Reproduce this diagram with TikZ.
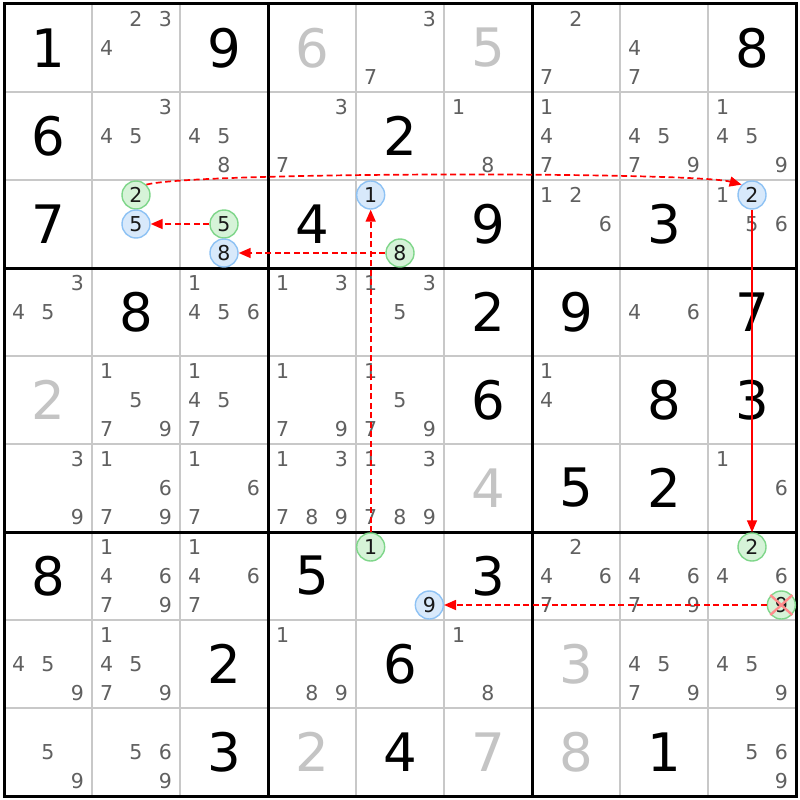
\documentclass[tikz,border=0pt]{standalone}
\usepackage{fontspec}
\setmainfont{DejaVu Sans}
\usetikzlibrary{arrows.meta}
\definecolor{givgray}{HTML}{C4C4C4}
\definecolor{candgray}{HTML}{606060}
\definecolor{gridgray}{HTML}{C8C8C8}
\definecolor{gfill}{HTML}{D6F3D8}
\definecolor{gstroke}{HTML}{7FD68A}
\definecolor{bfill}{HTML}{D8E9FB}
\definecolor{bstroke}{HTML}{8EC2F4}
\definecolor{linkred}{HTML}{FF0000}
\tikzset{
  solved/.style={font=\fontsize{53}{53}\selectfont, text=black, inner sep=0pt},
  given/.style={solved, text=givgray},
  cand/.style={font=\fontsize{20.5}{20.5}\selectfont, text=candgray, inner sep=0pt},
  circbase/.style={circle, line width=1.4pt, minimum size=28pt, inner sep=0pt,
    font=\fontsize{20.5}{20.5}\selectfont, text=black!90},
  gcirc/.style={circbase, draw=gstroke, fill=gfill},
  bcirc/.style={circbase, draw=bstroke, fill=bfill},
  thinline/.style={gridgray, line width=1.2pt},
  boxline/.style={black, line width=3pt},
  link/.style={linkred, line width=1.7pt, dash pattern=on 6pt off 3.5pt,
    -{Triangle[length=12pt,width=10pt]}},
  slink/.style={linkred, line width=1.5pt, -{Triangle[length=12pt,width=10pt]}},
  xmark/.style={linkred!45, line width=2.4pt},
}
\newcommand\PutBig[4]{\node[#4] (v-#1-#2) at ({48+88*#2},{48+88*#1}) {#3};}
\newcommand\PutCands[3]{\foreach \d in {#3}{%
  \pgfmathtruncatemacro\cc{mod(\d-1,3)}%
  \pgfmathtruncatemacro\rr{(\d-1)/3}%
  \node[cand] (k-#1-#2-\d) at ({4+88*#2+14.667*(2*\cc+1)},{4+88*#1+14.667*(2*\rr+1)}) {\d};}}
\newcommand\PutCirc[5]{%
  \pgfmathtruncatemacro\cc{mod(#4-1,3)}%
  \pgfmathtruncatemacro\rr{(#4-1)/3}%
  \node[#1] (#5) at ({4+88*#3+14.667*(2*\cc+1)},{round(4+88*#2+14.667*(2*\rr+1))}) {#4};}
\begin{document}
\begin{tikzpicture}[x=1pt,y=-1pt]
\useasboundingbox (0,0) rectangle (800,800);
\fill[white] (0,0) rectangle (800,800);
% grid
\foreach \i in {1,2,4,5,7,8}{
  \draw[thinline] ({4+88*\i},4) -- ({4+88*\i},796);
  \draw[thinline] (4,{4+88*\i}) -- (796,{4+88*\i});
}
\foreach \i in {3,6}{
  \draw[boxline] ({4+88*\i},4) -- ({4+88*\i},796);
  \draw[boxline] (4,{4+88*\i}) -- (796,{4+88*\i});
}
\draw[boxline] (4,4) rectangle (796,796);
% row 0
\PutBig{0}{0}{1}{solved}
\PutCands{0}{1}{2,3,4}
\PutBig{0}{2}{9}{solved}
\PutBig{0}{3}{6}{given}
\PutCands{0}{4}{3,7}
\PutBig{0}{5}{5}{given}
\PutCands{0}{6}{2,7}
\PutCands{0}{7}{4,7}
\PutBig{0}{8}{8}{solved}
% row 1
\PutBig{1}{0}{6}{solved}
\PutCands{1}{1}{3,4,5}
\PutCands{1}{2}{4,5,8}
\PutCands{1}{3}{3,7}
\PutBig{1}{4}{2}{solved}
\PutCands{1}{5}{1,8}
\PutCands{1}{6}{1,4,7}
\PutCands{1}{7}{4,5,7,9}
\PutCands{1}{8}{1,4,5,9}
% row 2
\PutBig{2}{0}{7}{solved}
\PutCirc{gcirc}{2}{1}{2}{gA}
\PutCirc{bcirc}{2}{1}{5}{bA}
\PutCirc{gcirc}{2}{2}{5}{gB}
\PutCirc{bcirc}{2}{2}{8}{bB}
\PutBig{2}{3}{4}{solved}
\PutCirc{bcirc}{2}{4}{1}{bC}
\PutCirc{gcirc}{2}{4}{8}{gC}
\PutBig{2}{5}{9}{solved}
\PutCands{2}{6}{1,2,6}
\PutBig{2}{7}{3}{solved}
\PutCands{2}{8}{1,5,6}
\PutCirc{bcirc}{2}{8}{2}{bD}
% row 3
\PutCands{3}{0}{3,4,5}
\PutBig{3}{1}{8}{solved}
\PutCands{3}{2}{1,4,5,6}
\PutCands{3}{3}{1,3}
\PutCands{3}{4}{1,3,5}
\PutBig{3}{5}{2}{solved}
\PutBig{3}{6}{9}{solved}
\PutCands{3}{7}{4,6}
\PutBig{3}{8}{7}{solved}
% row 4
\PutBig{4}{0}{2}{given}
\PutCands{4}{1}{1,5,7,9}
\PutCands{4}{2}{1,4,5,7}
\PutCands{4}{3}{1,7,9}
\PutCands{4}{4}{1,5,7,9}
\PutBig{4}{5}{6}{solved}
\PutCands{4}{6}{1,4}
\PutBig{4}{7}{8}{solved}
\PutBig{4}{8}{3}{solved}
% row 5
\PutCands{5}{0}{3,9}
\PutCands{5}{1}{1,6,7,9}
\PutCands{5}{2}{1,6,7}
\PutCands{5}{3}{1,3,7,8,9}
\PutCands{5}{4}{1,3,7,8,9}
\PutBig{5}{5}{4}{given}
\PutBig{5}{6}{5}{solved}
\PutBig{5}{7}{2}{solved}
\PutCands{5}{8}{1,6}
% row 6
\PutBig{6}{0}{8}{solved}
\PutCands{6}{1}{1,4,6,7,9}
\PutCands{6}{2}{1,4,6,7}
\PutBig{6}{3}{5}{solved}
\PutCirc{gcirc}{6}{4}{1}{gE}
\PutCirc{bcirc}{6}{4}{9}{bE}
\PutBig{6}{5}{3}{solved}
\PutCands{6}{6}{2,4,6,7}
\PutCands{6}{7}{4,6,7,9}
\PutCands{6}{8}{4,6}
\PutCirc{gcirc}{6}{8}{2}{gF}
\PutCirc{gcirc}{6}{8}{9}{gG}
% row 7
\PutCands{7}{0}{4,5,9}
\PutCands{7}{1}{1,4,5,7,9}
\PutBig{7}{2}{2}{solved}
\PutCands{7}{3}{1,8,9}
\PutBig{7}{4}{6}{solved}
\PutCands{7}{5}{1,8}
\PutBig{7}{6}{3}{given}
\PutCands{7}{7}{4,5,7,9}
\PutCands{7}{8}{4,5,9}
% row 8
\PutCands{8}{0}{5,9}
\PutCands{8}{1}{5,6,9}
\PutBig{8}{2}{3}{solved}
\PutBig{8}{3}{2}{given}
\PutBig{8}{4}{4}{solved}
\PutBig{8}{5}{7}{given}
\PutBig{8}{6}{8}{given}
\PutBig{8}{7}{1}{solved}
\PutCands{8}{8}{5,6,9}
% links
\draw[link] (gA.north east) .. controls +(50,-13) and +(-50,-13) .. (bD.north west);
\draw[link] (gB.west) -- (bA.east);
\draw[link] (gC.west) -- (bB.east);
\draw[link] (gE.north) -- (bC.south);
\draw[slink] (bD.south) -- (gF.north);
\draw[link] (gG.west) -- (bE.east);
% elimination mark
\draw[xmark] ([shift={(-11,-10)}]gG.center) -- ([shift={(11,10)}]gG.center);
\draw[xmark] ([shift={(-11,10)}]gG.center) -- ([shift={(11,-10)}]gG.center);
\end{tikzpicture}
\end{document}
